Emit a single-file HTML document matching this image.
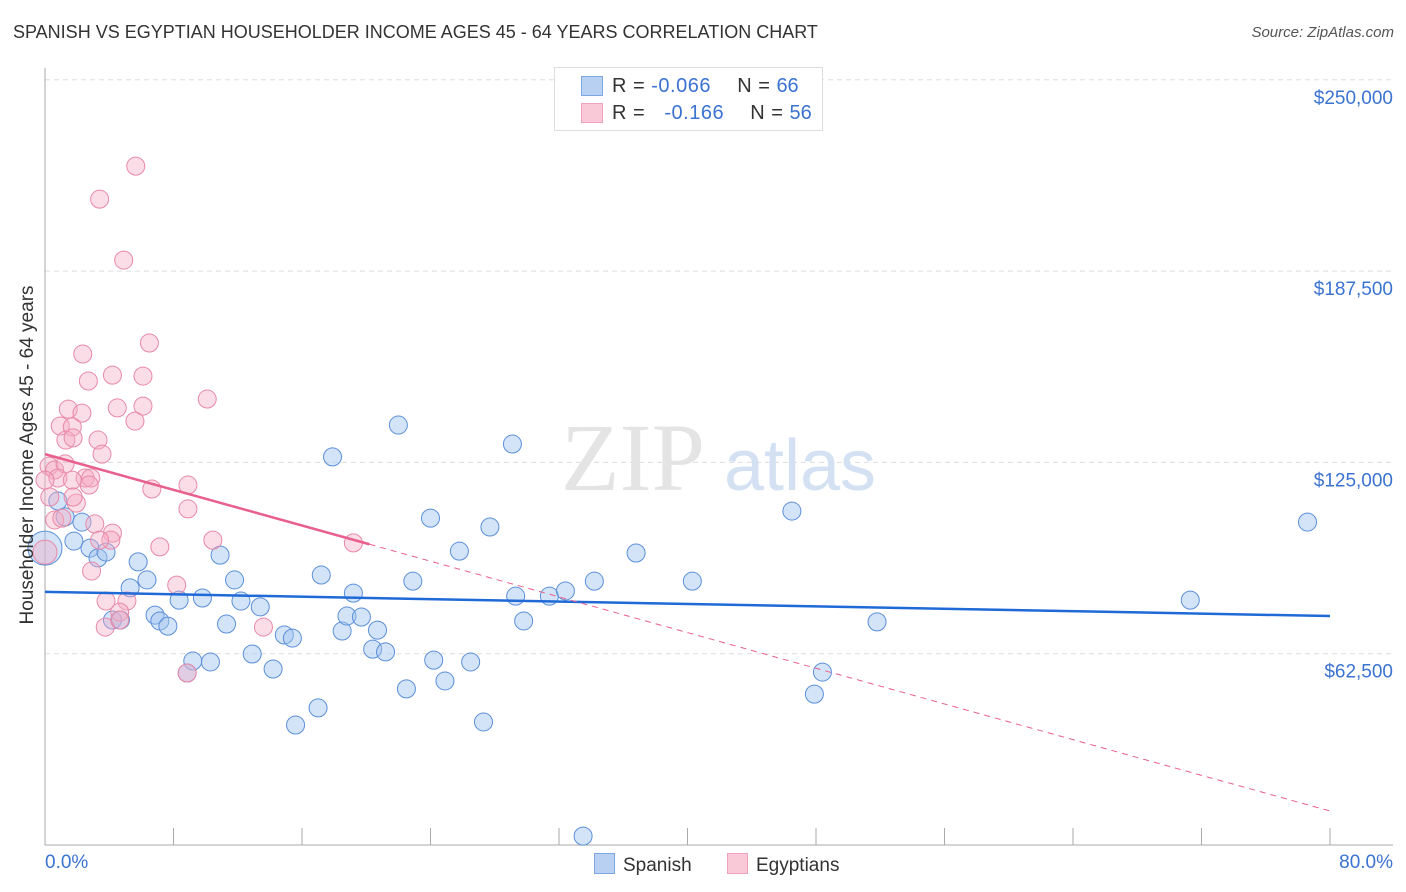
<!DOCTYPE html>
<html><head><meta charset="utf-8"><style>
body{margin:0;background:#fff;font-family:"Liberation Sans",sans-serif;}
#wrap{position:relative;width:1406px;height:892px;overflow:hidden;}
.t{position:absolute;white-space:nowrap;}
</style></head><body>
<div id="wrap">
<div class="t" style="left:13px;top:22px;font-size:18px;color:#333;">SPANISH VS EGYPTIAN HOUSEHOLDER INCOME AGES 45 - 64 YEARS CORRELATION CHART</div>
<div class="t" style="right:12px;top:24px;font-size:15px;color:#555;font-style:italic;">Source: ZipAtlas.com</div>
<svg id="svg" width="1406" height="892" style="position:absolute;left:0;top:0"></svg>
</div>
<script>
const xTicksPct=[0,8,16,24,32,40,48,56,64,72,80];
const yTickVals=[62.5,125,187.5,250];
const yTickLabels=["$62,500","$125,000","$187,500","$250,000"];
const blueX=[0,0.8,1.25,1.8,2.3,2.8,3.3,3.8,4.2,4.7,5.3,5.8,6.35,6.85,7.15,7.65,8.35,9.2,9.8,10.3,10.9,11.3,11.8,12.2,12.9,13.4,14.2,14.9,15.4,15.6,17.0,17.2,17.9,18.5,18.8,19.2,19.7,20.4,20.7,21.2,22.0,22.5,22.9,24.0,24.2,24.9,25.8,26.5,27.3,27.7,29.1,29.3,29.8,31.4,32.4,33.5,34.2,36.8,40.3,46.5,47.9,48.4,51.8,71.3,78.6,8.85];
const blueY=[97.0,112.4,107.2,99.3,105.5,97.0,93.8,95.7,73.5,73.5,84.0,92.5,86.6,75.1,73.2,71.5,80.0,60.1,80.7,59.8,94.7,72.2,86.6,79.7,62.4,77.8,57.5,68.6,67.6,39.2,44.8,88.2,126.8,69.9,74.8,82.3,74.5,64.0,70.2,63.1,137.2,51.0,86.2,106.8,60.4,53.6,96.0,59.8,40.2,103.9,131.0,81.3,73.2,81.3,83.0,2.9,86.2,95.4,86.2,109.1,49.3,56.5,72.9,80.0,105.5,56.2];
const pinkX=[5.65,3.4,4.9,2.35,6.5,2.7,4.2,6.1,10.1,1.45,2.3,4.5,6.1,5.6,0.95,1.7,1.3,1.75,3.3,3.55,0.25,0.6,1.25,0.8,2.5,2.85,2.75,1.7,6.65,8.9,1.95,1.75,8.9,0.6,1.05,3.1,4.2,4.1,3.4,7.15,10.45,19.2,0,2.9,8.2,3.8,5.1,4.65,3.75,13.6,8.85,0,0.3,4.65];
const pinkY=[221.8,211.0,191.1,160.4,164.0,151.6,153.5,153.2,145.7,142.4,141.1,142.8,143.4,138.5,136.9,136.6,132.3,133.0,132.3,127.7,123.8,122.5,124.5,119.9,119.9,119.9,117.6,119.2,116.3,117.6,111.7,113.7,109.8,106.2,106.8,104.9,101.9,99.6,99.6,97.4,99.6,98.7,95.7,89.5,84.9,79.7,79.7,76.1,71.2,71.2,56.2,119.2,113.7,73.5];
const blueTrend=[82.7,74.8];
const pinkTrend=[127.7,11.1];
const pinkSolidEnd=20.2;

const NS="http://www.w3.org/2000/svg";
const svg=document.getElementById('svg');
const X=p=>45+p/80*1285;
const Y=v=>845-v/62.5*191.3;
function el(tag,attrs){const e=document.createElementNS(NS,tag);for(const k in attrs)e.setAttribute(k,attrs[k]);svg.appendChild(e);return e;}
yTickVals.forEach((v,i)=>{
  const g=el('line',{x1:45,x2:1393,y1:Y(v),y2:Y(v),stroke:'#ddd','stroke-dasharray':'5,4'});
  
  
  const t=el('text',{x:1393,y:Y(v)+24,'text-anchor':'end','font-size':19,fill:'#3b73d1','font-family':'Liberation Sans,sans-serif'});
  t.textContent=yTickLabels[i];
  
  
});
const ax=el('line',{x1:45,x2:45,y1:68,y2:845,stroke:'#aaa'});


const bx=el('line',{x1:45,x2:1393,y1:845,y2:845,stroke:'#aaa'});


xTicksPct.forEach(p=>{
  const t=el('line',{x1:X(p),x2:X(p),y1:828,y2:845,stroke:'#aaa'});
  
  
});
const w1=el('text',{x:633,y:490,'text-anchor':'middle','font-size':96,fill:'#e4e4e4','font-family':'Liberation Serif,serif'});
w1.textContent='ZIP';


const w2=el('text',{x:800,y:490,'text-anchor':'middle','font-size':72,fill:'#d3e1f3','font-family':'Liberation Sans,sans-serif'});
w2.textContent='atlas';


blueX.forEach((x,i)=>{
  const c=el('circle',{cx:X(x),cy:Y(blueY[i]),r:(i===0?17:9),fill:'rgba(160,195,240,0.45)',stroke:'#5b8fd9','stroke-width':1});
  
  
});
pinkX.forEach((x,i)=>{
  const c=el('circle',{cx:X(x),cy:Y(pinkY[i]),r:(i===42?12:9),fill:'rgba(245,170,195,0.4)',stroke:'#e889a8','stroke-width':1});
  
  
});
const bl=el('line',{x1:X(0),y1:Y(blueTrend[0]),x2:X(80),y2:Y(blueTrend[1]),stroke:'#1f6ad6','stroke-width':2.5});


const pv=p=>pinkTrend[0]+(pinkTrend[1]-pinkTrend[0])*p/80;
const pl=el('line',{x1:X(0),y1:Y(pv(0)),x2:X(pinkSolidEnd),y2:Y(pv(pinkSolidEnd)),stroke:'#e8608d','stroke-width':2.5});


const pd=el('line',{x1:X(pinkSolidEnd),y1:Y(pv(pinkSolidEnd)),x2:X(80),y2:Y(pv(80)),stroke:'#e8608d','stroke-width':1,'stroke-dasharray':'6,5'});


</script>
<div class="t" style="left:28px;top:455px;font-size:19px;color:#333;transform:translate(-50%,-50%) rotate(-90deg);transform-origin:center;">Householder Income Ages 45 - 64 years</div>
<div class="t" style="left:45px;top:852px;font-size:19px;color:#3b73d1;">0.0%</div>
<div class="t" style="right:13px;top:852px;font-size:19px;color:#3b73d1;">80.0%</div>
<div style="position:absolute;left:554px;top:67px;width:267px;height:62px;border:1px solid #ddd;background:#fff;font-size:20px;color:#333;">
 <div style="position:absolute;left:26px;top:8px;width:20px;height:18px;background:#b8d1f3;border:1px solid #7ea6e0;"></div>
 <div class="t" style="left:57px;top:7px;word-spacing:1px;">R = <span style="color:#3b73d1;letter-spacing:0.5px">-0.066</span>&nbsp;&nbsp;&nbsp;&nbsp;N = <span style="color:#3b73d1">66</span></div>
 <div style="position:absolute;left:26px;top:35px;width:20px;height:18px;background:#f9c9d7;border:1px solid #eea3bb;"></div>
 <div class="t" style="left:57px;top:34px;word-spacing:1px;">R = &nbsp;&nbsp;<span style="color:#3b73d1;letter-spacing:0.5px">-0.166</span>&nbsp;&nbsp;&nbsp;&nbsp;N = <span style="color:#3b73d1">56</span></div>
</div>
<div style="position:absolute;left:594px;top:853px;font-size:19px;color:#333;">
 <span style="display:inline-block;width:19px;height:19px;background:#b8d1f3;border:1px solid #7ea6e0;vertical-align:-3px;margin-right:8px;"></span>Spanish</div>
<div style="position:absolute;left:727px;top:853px;font-size:19px;color:#333;">
 <span style="display:inline-block;width:19px;height:19px;background:#f9c9d7;border:1px solid #eea3bb;vertical-align:-3px;margin-right:8px;"></span>Egyptians</div>
</body></html>
